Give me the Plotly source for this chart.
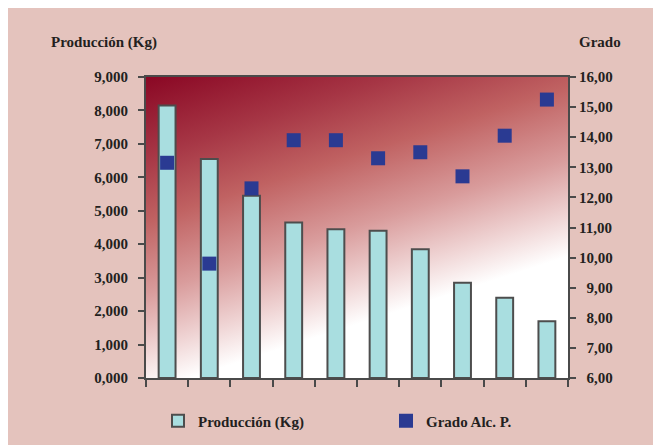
import base64
import plotly.graph_objects as go

categories = list(range(10))
produccion = [8150, 6550, 5450, 4650, 4450, 4400, 3850, 2850, 2400, 1700]
grado = [13.15, 9.8, 12.3, 13.9, 13.9, 13.3, 13.5, 12.7, 14.05, 15.25]

left_tickvals = [0, 1000, 2000, 3000, 4000, 5000, 6000, 7000, 8000, 9000]
left_ticktext = ["0,000", "1,000", "2,000", "3,000", "4,000", "5,000", "6,000", "7,000", "8,000", "9,000"]
right_tickvals = [6, 7, 8, 9, 10, 11, 12, 13, 14, 15, 16]
right_ticktext = ["\u20076,00", "\u20077,00", "\u20078,00", "\u20079,00", "10,00", "11,00", "12,00", "13,00", "14,00", "15,00", "16,00"]

FONT = "Liberation Serif"
TXT = "#231f20"
AX = "#4a4a4a"
BFONT = dict(family=FONT, size=15, color=TXT, weight="bold")

svg = ('<svg xmlns="http://www.w3.org/2000/svg" width="422" height="301" preserveAspectRatio="none">'
       '<defs><linearGradient id="g" x1="0" y1="0" x2="0.45" y2="1">'
       '<stop offset="0" stop-color="#8a0724"/>'
       '<stop offset="0.22" stop-color="#a63645"/>'
       '<stop offset="0.4" stop-color="#c06262"/>'
       '<stop offset="0.6" stop-color="#d99c9c"/>'
       '<stop offset="0.76" stop-color="#f0d6d6"/>'
       '<stop offset="0.87" stop-color="#ffffff"/>'
       '<stop offset="1" stop-color="#ffffff"/>'
       '</linearGradient></defs><rect x="0" y="0" width="422" height="301" fill="url(#g)"/></svg>')
src = "data:image/svg+xml;base64," + base64.b64encode(svg.encode()).decode()

fig = go.Figure()
fig.add_trace(go.Bar(
    x=categories, y=produccion, name="Producción (Kg)", width=0.4,
    marker=dict(color="#a9dee0", line=dict(color="#4d4d4d", width=2)),
    yaxis="y", legend="legend",
))
fig.add_trace(go.Scatter(
    x=categories, y=grado, name="Grado Alc. P.", mode="markers",
    marker=dict(symbol="square", size=14, color="#2a3a92"),
    yaxis="y2", legend="legend2",
))

fig.update_layout(
    width=661, height=445,
    margin=dict(l=138, r=101, t=69, b=75, autoexpand=False),
    paper_bgcolor="#e4c3bd",
    plot_bgcolor="rgba(0,0,0,0)",
    font=BFONT,
    showlegend=True,
    xaxis=dict(
        range=[-0.5, 9.5], tickvals=[-0.5 + i for i in range(11)], showticklabels=False,
        ticks="outside", ticklen=7, tickwidth=2, tickcolor=AX,
        showline=True, linecolor=AX, linewidth=2, mirror=True,
        showgrid=False, zeroline=False, automargin=False,
    ),
    yaxis=dict(
        range=[0, 9000], tickvals=left_tickvals, ticktext=left_ticktext,
        ticks="outside", ticklen=6, tickwidth=2, tickcolor=AX,
        showline=True, linecolor=AX, linewidth=2,
        showgrid=False, zeroline=False, ticklabelstandoff=7, automargin=False,
        tickfont=BFONT,
    ),
    yaxis2=dict(
        range=[6, 16], tickvals=right_tickvals, ticktext=right_ticktext,
        overlaying="y", side="right",
        ticks="outside", ticklen=6, tickwidth=2, tickcolor=AX,
        showline=True, linecolor=AX, linewidth=2,
        showgrid=False, zeroline=False, automargin=False,
        tickfont=BFONT,
    ),
    legend=dict(
        orientation="h", x=(158 - 146) / 422, xanchor="left", y=(378 - 421) / 301, yanchor="middle",
        bgcolor="rgba(0,0,0,0)", font=BFONT,
    ),
    legend2=dict(
        orientation="h", x=(386 - 146) / 422, xanchor="left", y=(378 - 421) / 301, yanchor="middle",
        bgcolor="rgba(0,0,0,0)", font=BFONT,
    ),
    images=[dict(source=src, xref="paper", yref="paper", x=0, y=1, sizex=1, sizey=1,
                 sizing="stretch", layer="below", xanchor="left", yanchor="top")],
    annotations=[
        dict(text="Producción (Kg)", xref="paper", yref="paper", x=(104 - 146) / 422, y=(378 - 42) / 301,
             showarrow=False, xanchor="center", yanchor="middle", font=BFONT),
        dict(text="Grado", xref="paper", yref="paper", x=(600 - 146) / 422, y=(378 - 42) / 301,
             showarrow=False, xanchor="center", yanchor="middle", font=BFONT),
    ],
)
fig.write_html("out.html")
